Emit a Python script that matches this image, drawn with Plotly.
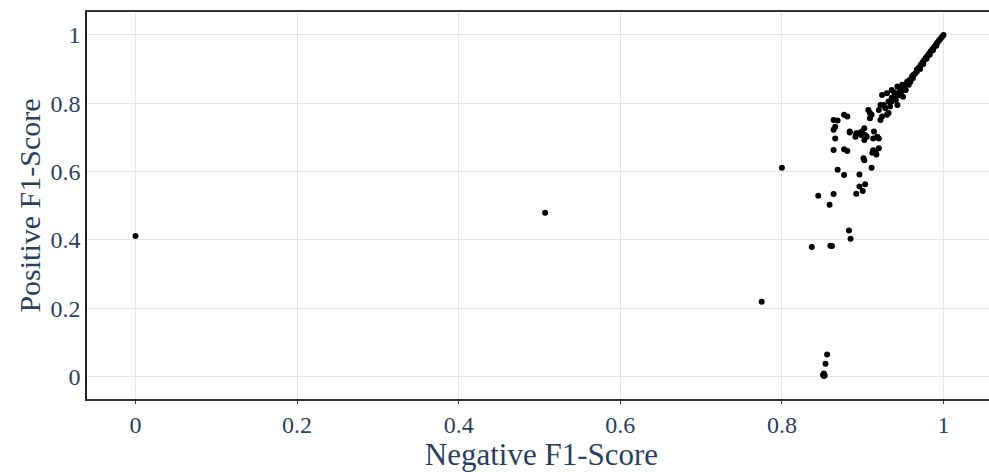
import plotly.graph_objects as go

# Negative F1-Score (x) and Positive F1-Score (y)
neg_f1 = [
    0.000, 0.507, 0.775, 0.800,
    0.852, 0.851, 0.853, 0.852, 0.854, 0.856,
    0.837, 0.860, 0.883, 0.885, 0.862,
    0.859, 0.845, 0.864, 0.892, 0.900, 0.896, 0.903,
    0.869, 0.877, 0.896, 0.902, 0.911, 0.864, 0.881, 0.912, 0.917, 0.877,
    0.901, 0.916, 0.920, 0.913, 0.902, 0.913, 0.898, 0.892, 0.884, 0.920,
    0.864, 0.869, 0.866, 0.864, 0.866, 0.881, 0.877, 0.884, 0.902, 0.903,
    0.907, 0.909, 0.911, 0.909, 0.920, 0.924, 0.922, 0.899, 0.895, 0.914,
    0.918, 0.905, 0.891, 0.928, 0.932, 0.926, 0.930, 0.932,
    0.936, 0.941, 0.947, 0.953, 0.959, 0.963, 0.967, 0.972, 0.957, 0.950,
    0.922, 0.936, 0.943, 0.924, 0.930, 0.936, 0.943, 0.949, 0.955, 0.961,
    0.967, 0.945, 0.953, 0.939, 0.946, 0.951, 0.958, 0.962, 0.934, 0.940,
    0.968, 0.970, 0.972, 0.974, 0.976, 0.978, 0.980, 0.982, 0.984, 0.986,
    0.988, 0.990, 0.992, 0.994, 0.996, 0.998, 1.000, 0.975, 0.971, 0.965,
    0.979, 0.983, 0.987, 0.991, 0.969, 0.962, 0.956, 0.948, 0.944, 0.938,
]
pos_f1 = [
    0.411, 0.479, 0.219, 0.611,
    0.001, 0.005, 0.003, 0.009, 0.037, 0.064,
    0.379, 0.383, 0.427, 0.403, 0.382,
    0.503, 0.529, 0.534, 0.535, 0.543, 0.556, 0.563,
    0.605, 0.590, 0.591, 0.633, 0.611, 0.663, 0.660, 0.655, 0.650, 0.665,
    0.639, 0.658, 0.668, 0.662, 0.692, 0.697, 0.707, 0.712, 0.714, 0.697,
    0.751, 0.749, 0.731, 0.722, 0.697, 0.761, 0.766, 0.717, 0.727, 0.707,
    0.780, 0.756, 0.766, 0.771, 0.780, 0.761, 0.751, 0.717, 0.712, 0.717,
    0.702, 0.702, 0.702, 0.785, 0.771, 0.795, 0.766, 0.805,
    0.805, 0.810, 0.829, 0.839, 0.863, 0.883, 0.898, 0.912, 0.854, 0.819,
    0.795, 0.839, 0.849, 0.824, 0.829, 0.816, 0.795, 0.854, 0.863, 0.878,
    0.893, 0.824, 0.839, 0.832, 0.842, 0.850, 0.868, 0.873, 0.790, 0.826,
    0.898, 0.905, 0.912, 0.919, 0.926, 0.932, 0.938, 0.945, 0.951, 0.957,
    0.963, 0.969, 0.976, 0.982, 0.988, 0.994, 1.000, 0.915, 0.900, 0.887,
    0.930, 0.942, 0.955, 0.968, 0.902, 0.880, 0.858, 0.836, 0.828, 0.812,
]

x_ticks = [0, 0.2, 0.4, 0.6, 0.8, 1]
y_ticks = [0, 0.2, 0.4, 0.6, 0.8, 1]

font_family = "Liberation Serif, Times New Roman, serif"
text_color = "#2a3f5f"

fig = go.Figure(
    go.Scatter(
        x=neg_f1,
        y=pos_f1,
        mode="markers",
        marker=dict(color="black", size=6),
        showlegend=False,
    )
)

fig.update_layout(
    width=996,
    height=472,
    margin=dict(l=86.5, r=0, t=12, b=73),
    paper_bgcolor="white",
    plot_bgcolor="white",
    font=dict(family=font_family, color=text_color, size=24),
    xaxis=dict(
        title=dict(text="Negative F1-Score", font=dict(size=31), standoff=2),
        automargin=False,
        range=[-0.06, 1.065],
        tickvals=x_ticks,
        ticktext=[f"{v:g}" for v in x_ticks],
        showgrid=True,
        gridcolor="#e6e6e6",
        gridwidth=1,
        zeroline=False,
        showline=True,
        linecolor="#333333",
        linewidth=1.5,
        mirror=True,
        ticks="outside",
        ticklen=3,
        tickcolor="#333333",
        tickfont=dict(size=24),
    ),
    yaxis=dict(
        title=dict(text="Positive F1-Score", font=dict(size=30), standoff=1),
        automargin=False,
        range=[-0.066, 1.067],
        tickvals=y_ticks,
        ticktext=[f"{v:g}" for v in y_ticks],
        showgrid=True,
        gridcolor="#e6e6e6",
        gridwidth=1,
        zeroline=False,
        showline=True,
        linecolor="#222222",
        linewidth=1.5,
        ticks="",
        tickfont=dict(size=24),
    ),
)

fig.write_html(
    "out.html",
    config={"displayModeBar": False},
    post_script="document.body.style.margin='0';document.body.style.overflow='hidden';",
)
